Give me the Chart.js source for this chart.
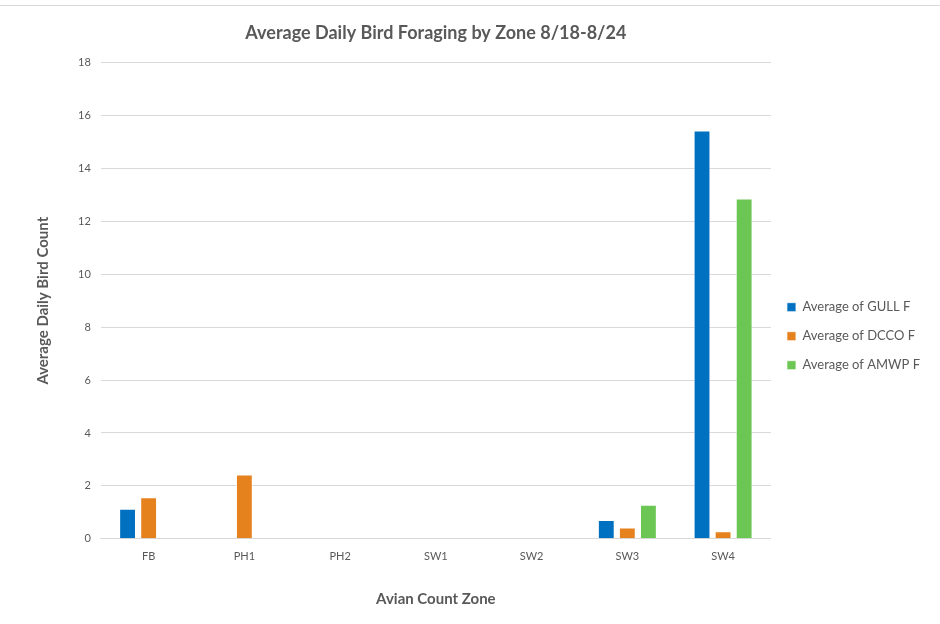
<!DOCTYPE html>
<html>
<head>
<meta charset="utf-8">
<script src="https://cdn.jsdelivr.net/npm/chart.js@4"></script>
<style>
    body { margin: 0; background: #fff; }
    .frame { position: relative; width: 940px; height: 624px; }
    .frame::before { content: ''; position: absolute; left: 0; right: 0; top: 5px; border-top: 1px solid #d9d9d9; }
</style>
</head>
<body>
<div class="frame">
    <canvas id="birdChart" width="940" height="624"></canvas>
</div>
<script>
// --- Data ---
const zones = ['FB', 'PH1', 'PH2', 'SW1', 'SW2', 'SW3', 'SW4'];
const gullF = [1.14, 0, 0, 0, 0, 0.71, 15.43];
const dccoF = [1.57, 2.43, 0, 0, 0, 0.43, 0.29];
const amwpF = [0, 0, 0, 0, 0, 1.29, 12.86];
const seriesNames = ['Average of GULL F', 'Average of DCCO F', 'Average of AMWP F'];
const seriesColors = ['#0070c0', '#e6821e', '#6cc654'];

const FONT = 'Lato, "Open Sans", sans-serif';
const GREY = '#595959';

function makeSet(i, data) {
    return {
        label: seriesNames[i],
        data: data,
        backgroundColor: seriesColors[i],
        borderColor: 'rgba(255,255,255,0.7)',
        borderWidth: 1,
        barPercentage: 0.8,
        categoryPercentage: 0.66
    };
}

// Excel centres the title over the plot area, not the whole canvas
const centerTitleOnPlot = {
    id: 'centerTitleOnPlot',
    afterLayout(chart) {
        if (chart.titleBlock) {
            chart.titleBlock.left = chart.chartArea.left;
            chart.titleBlock.right = chart.chartArea.right;
        }
    }
};

new Chart(document.getElementById('birdChart').getContext('2d'), {
    type: 'bar',
    data: {
        labels: zones,
        datasets: [makeSet(0, gullF), makeSet(1, dccoF), makeSet(2, amwpF)]
    },
    options: {
        responsive: false,
        animation: false,
        layout: { padding: { top: 18, right: 10, bottom: 12, left: 30 } },
        scales: {
            y: {
                min: 0, max: 18,
                ticks: { stepSize: 2, color: GREY, font: { family: FONT, size: 11 }, padding: 10 },
                grid: { color: '#d9d9d9', drawTicks: false },
                border: { display: false },
                title: { display: true, text: 'Average Daily Bird Count', color: GREY, font: { family: FONT, size: 15, weight: 'bold' }, padding: { bottom: 16 } }
            },
            x: {
                ticks: { color: GREY, font: { family: FONT, size: 11 }, padding: 3 },
                grid: { display: false },
                border: { color: '#d9d9d9' },
                title: { display: true, text: 'Avian Count Zone', color: GREY, font: { family: FONT, size: 15, weight: 'bold' }, padding: { top: 24 } }
            }
        },
        plugins: {
            title: {
                display: true,
                text: 'Average Daily Bird Foraging by Zone 8/18-8/24',
                color: GREY,
                font: { family: FONT, size: 18, weight: 'bold' },
                padding: { top: 4, bottom: 19 }
            },
            legend: {
                position: 'right',
                title: { display: true, text: ' ', font: { size: 12 }, padding: { top: 28, bottom: 0 } },
                labels: { color: GREY, font: { family: FONT, size: 13 }, boxWidth: 9, boxHeight: 9, padding: 16, useBorderRadius: false }
            },
            tooltip: { enabled: false }
        }
    },
    plugins: [centerTitleOnPlot]
});
</script>
</body>
</html>
